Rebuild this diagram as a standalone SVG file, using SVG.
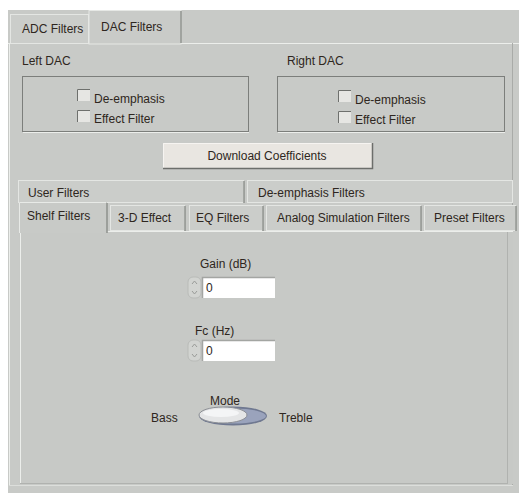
<svg xmlns="http://www.w3.org/2000/svg" width="519" height="493" viewBox="0 0 519 493">
<style>
text{font-family:"Liberation Sans",Arial,sans-serif;font-size:12px;fill:#2e2620}
.tab{fill:#cbcdca;stroke:#e4e6e3;stroke-width:1}
.sh{stroke:#8e908d;stroke-width:1.5;fill:none}
.hl{stroke:#eceeeb;stroke-width:1;fill:none}
.grp{fill:none;stroke:#7c7e7b;stroke-width:1}
.cb{fill:#e6e6e3}
.field{fill:#ffffff}
</style>
<rect x="0" y="0" width="519" height="493" fill="#ffffff"/>
<g id="window">
<rect x="8" y="10" width="511" height="483" fill="#c8cac7"/>
<line class="hl" x1="8" y1="43.5" x2="519" y2="43.5"/>
<line class="hl" x1="9.5" y1="43" x2="9.5" y2="486"/>
<line x1="512.5" y1="43" x2="512.5" y2="486" stroke="#a9aba8"/>
<line x1="9" y1="485.5" x2="513" y2="485.5" stroke="#dcdedb"/>
</g>
<g id="tab-adc">
<rect class="tab" x="10.5" y="14.5" width="78" height="29"/>
<text x="22" y="33">ADC Filters</text>
</g>
<g id="tab-dac">
<rect x="89" y="10.5" width="92" height="33.5" fill="#c9cbc8" stroke="#e6e8e5"/>
<line class="sh" x1="181" y1="11" x2="181" y2="43"/>
<text x="101" y="31">DAC Filters</text>
</g>
<g id="left-dac">
<text x="22" y="65">Left DAC</text>
<rect class="grp" x="22.5" y="76.5" width="226" height="55"/>
<line class="hl" x1="23" y1="132.5" x2="249" y2="132.5"/>
<rect class="cb" x="77" y="89" width="13" height="12"/>
<path d="M77.5 101V89.5H90" stroke="#6e706d" fill="none"/>
<text x="94" y="103">De-emphasis</text>
<rect class="cb" x="77" y="110" width="13" height="12"/>
<path d="M77.5 122V110.5H90" stroke="#6e706d" fill="none"/>
<text x="94" y="123">Effect Filter</text>
</g>
<g id="right-dac">
<text x="287" y="65">Right DAC</text>
<rect class="grp" x="277.5" y="76.5" width="227" height="55"/>
<line class="hl" x1="278" y1="132.5" x2="505" y2="132.5"/>
<rect class="cb" x="338" y="90" width="13" height="12"/>
<path d="M338.5 102V90.5H351" stroke="#6e706d" fill="none"/>
<text x="355" y="104">De-emphasis</text>
<rect class="cb" x="338" y="111" width="13" height="12"/>
<path d="M338.5 123V111.5H351" stroke="#6e706d" fill="none"/>
<text x="355" y="124">Effect Filter</text>
</g>
<g id="download-button">
<rect x="163" y="143" width="209" height="25" fill="#e9e6e1"/>
<path d="M163.5 168V143.5H372" stroke="#f6f4f1" fill="none"/>
<path d="M163 168.5H372.5V143" stroke="#6c6e6b" stroke-width="1.5" fill="none"/>
<text x="267" y="160" text-anchor="middle">Download Coefficients</text>
</g>
<g id="tab-user-filters">
<rect class="tab" x="18.5" y="180.5" width="225" height="22"/>
<line class="sh" x1="244" y1="181" x2="244" y2="203"/>
<text x="28" y="197">User Filters</text>
</g>
<g id="tab-deemphasis-filters">
<rect class="tab" x="247.5" y="180.5" width="265" height="22"/>
<text x="258" y="197">De-emphasis Filters</text>
</g>
<g id="inner-panel">
<rect x="19" y="231" width="494" height="253" fill="#c7c9c6"/>
<line class="hl" x1="20.5" y1="231" x2="20.5" y2="483"/>
<line x1="20" y1="483.5" x2="508" y2="483.5" stroke="#b0b2af"/>
<line x1="507.5" y1="231" x2="507.5" y2="484" stroke="#b0b2af"/>
<line class="hl" x1="107" y1="231.5" x2="513" y2="231.5"/>
</g>
<g id="tab-shelf">
<rect x="19" y="202" width="88" height="31" fill="#c8cac7"/>
<path d="M19.5 233V202.5H106" stroke="#e8eae7" fill="none"/>
<line class="sh" x1="107" y1="203" x2="107" y2="233"/>
<text x="27" y="220">Shelf Filters</text>
</g>
<g id="tab-3d">
<rect class="tab" x="110.5" y="205.5" width="74" height="25"/>
<line class="sh" x1="185" y1="206" x2="185" y2="231"/>
<text x="118" y="222">3-D Effect</text>
</g>
<g id="tab-eq">
<rect class="tab" x="189.5" y="205.5" width="73" height="25"/>
<line class="sh" x1="263" y1="206" x2="263" y2="231"/>
<text x="196" y="222">EQ Filters</text>
</g>
<g id="tab-analog">
<rect class="tab" x="266.5" y="205.5" width="154" height="25"/>
<line class="sh" x1="421" y1="206" x2="421" y2="231"/>
<text x="277" y="222">Analog Simulation Filters</text>
</g>
<g id="tab-preset">
<rect class="tab" x="424.5" y="205.5" width="91" height="25"/>
<line class="sh" x1="516" y1="206" x2="516" y2="231"/>
<text x="434" y="222">Preset Filters</text>
</g>
<g id="gain-control">
<text x="200" y="268">Gain (dB)</text>
<rect x="188" y="277" width="13" height="21" rx="5" fill="#d2d4d1" stroke="#b9bbb8"/>
<path d="M192 284l2.5-3 2.5 3M192 291l2.5 3 2.5-3" stroke="#9a9c99" fill="none"/>
<rect class="field" x="202" y="277" width="73" height="21"/>
<path d="M202.5 298V277.5H275" stroke="#a3a5a2" stroke-width="1.5" fill="none"/>
<text x="206" y="292">0</text>
</g>
<g id="fc-control">
<text x="195" y="335">Fc (Hz)</text>
<rect x="188" y="340" width="13" height="21" rx="5" fill="#d2d4d1" stroke="#b9bbb8"/>
<path d="M192 347l2.5-3 2.5 3M192 354l2.5 3 2.5-3" stroke="#9a9c99" fill="none"/>
<rect class="field" x="202" y="340" width="73" height="21"/>
<path d="M202.5 361V340.5H275" stroke="#a3a5a2" stroke-width="1.5" fill="none"/>
<text x="206" y="355">0</text>
</g>
<g id="mode-switch">
<text x="210" y="405">Mode</text>
<text x="151" y="422">Bass</text>
<text x="279" y="422">Treble</text>
<ellipse cx="233" cy="416" rx="34" ry="9.5" fill="#6f7890"/>
<ellipse cx="234" cy="416" rx="32" ry="7.5" fill="#9aa3bc"/>
<ellipse cx="223" cy="415" rx="24" ry="8" fill="#e4e5e6" stroke="#8b8e94"/>
<ellipse cx="221" cy="413" rx="18" ry="4" fill="#f4f5f6"/>
</g>
</svg>
